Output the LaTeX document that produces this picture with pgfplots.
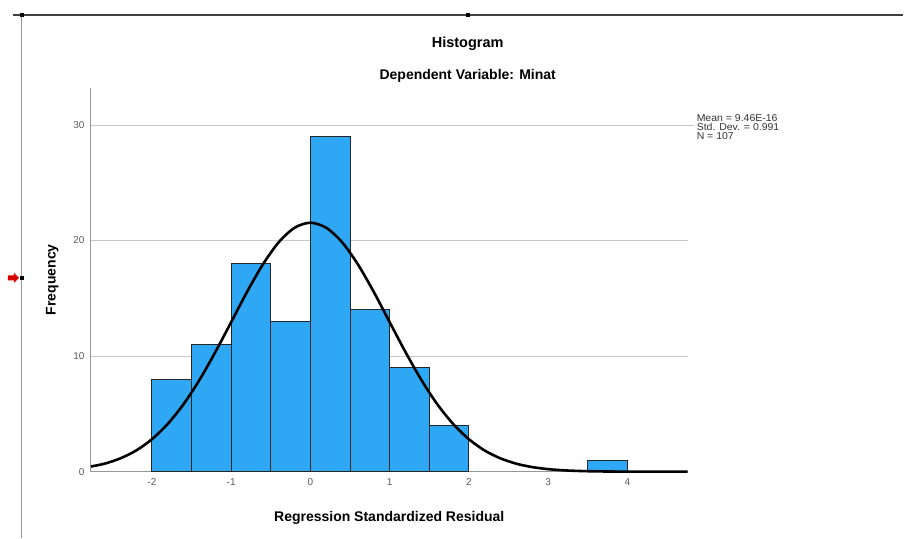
\documentclass[border=0pt]{standalone}
\usepackage{pgfplots}
\pgfplotsset{compat=1.18}
\usepackage{fontspec}
\setmainfont{Liberation Sans}
\definecolor{barblue}{RGB}{46,167,245}
\definecolor{gridgray}{RGB}{200,200,200}
\definecolor{axgray}{RGB}{150,150,150}
\definecolor{tickgray}{RGB}{90,90,90}
\begin{document}
\begin{tikzpicture}[x=1pt,y=1pt]
\path (0,0) rectangle (904,538);
% selection frame of the editor
\draw[color=black!75, line width=1.2pt] (13,523) -- (904,523);
\draw[color=axgray, line width=1pt] (22,523) -- (22,0);
\fill[black] (20,521) rectangle (24,525);
\fill[black] (466,521) rectangle (470,525);
\fill[black] (20,258) rectangle (24,262);
\fill[red!85!black] (8,257.5) -- (14,257.5) -- (14,255) -- (19,260) -- (14,265) -- (14,262.5) -- (8,262.5) -- cycle;
\begin{axis}[
  at={(91pt,66pt)}, anchor=south west,
  scale only axis, width=597pt, height=384pt,
  xmin=-2.77, xmax=4.76, ymin=0, ymax=33.2,
  axis x line*=bottom, axis y line*=left,
  axis line style={color=axgray, line width=0.9pt},
  xtick={-2,-1,0,1,2,3,4},
  ytick={0,10,20,30},
  major tick length=0pt,
  tick label style={font=\fontsize{10}{11}\selectfont, text=tickgray},
  /pgf/number format/assume math mode=true,
  xticklabel style={yshift=-3pt},
  yticklabel style={xshift=-3pt},
  ymajorgrids=true,
  grid style={color=gridgray, line width=0.8pt},
  xlabel={\bfseries Regression Standardized Residual},
  ylabel={\bfseries Frequency},
  xlabel style={font=\fontsize{14}{16}\selectfont, yshift=-19pt},
  ylabel style={font=\fontsize{14}{16}\selectfont, yshift=8pt},
  clip=false,
]
\addplot[ybar interval, fill=barblue, draw=black!85, line width=0.9pt]
coordinates {(-2,8) (-1.5,11) (-1,18) (-0.5,13) (0,29) (0.5,14) (1,9) (1.5,4) (2,4)};
\addplot[ybar interval, fill=barblue, draw=black!85, line width=0.9pt]
coordinates {(3.5,1) (4,1)};
\addplot[black, line width=2.6pt, smooth, no markers]
coordinates {
(-2.77,0.45) (-2.6,0.689) (-2.4,1.15) (-2.2,1.83) (-2.0,2.81) (-1.8,4.14) (-1.6,5.85)
(-1.4,7.94) (-1.2,10.35) (-1.0,12.94) (-0.8,15.55) (-0.6,17.93) (-0.4,19.85)
(-0.2,21.10) (0,21.54) (0.2,21.10) (0.4,19.85) (0.6,17.93) (0.8,15.55)
(1.0,12.94) (1.2,10.35) (1.4,7.94) (1.6,5.85) (1.8,4.14) (2.0,2.81)
(2.2,1.83) (2.4,1.15) (2.6,0.689) (2.8,0.398) (3.0,0.220) (3.2,0.117)
(3.4,0.060) (3.6,0.029) (3.8,0.014) (4.0,0.006) (4.2,0.002) (4.4,0.001) (4.76,0)
};
\end{axis}
\draw[gridgray, line width=0.8pt] (688,413) -- (694,413);
\node[anchor=north west, align=left, inner sep=0pt, font=\fontsize{10}{9.2}\selectfont, text=black!80, xscale=1.05]
  at (697,424) {Mean = 9.46E-16\\Std. Dev. = 0.991\\N = 107};
\node[font=\fontsize{14.5}{16}\selectfont\bfseries] at (468,494) {Histogram};
\node[font=\fontsize{14}{16}\selectfont\bfseries] at (468,462) {Dependent Variable: Minat};
\end{tikzpicture}
\end{document}
